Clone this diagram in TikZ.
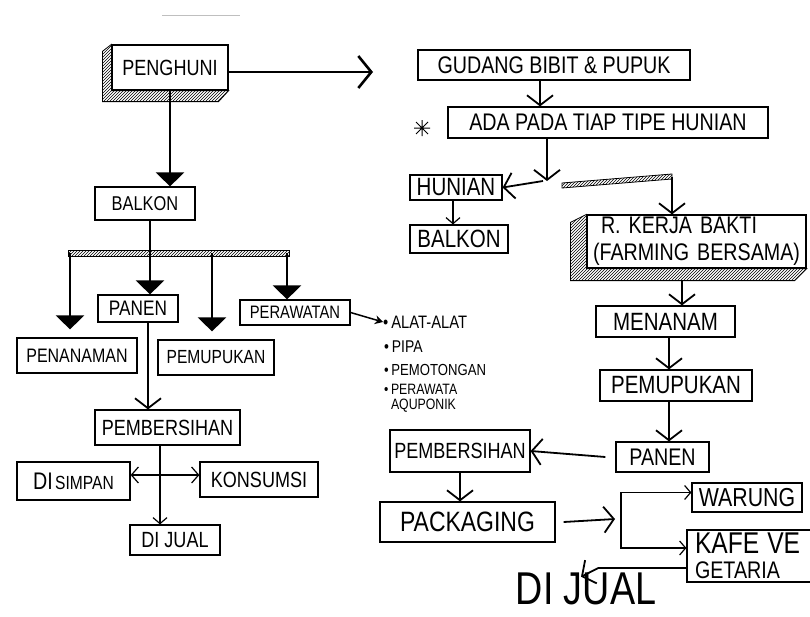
\documentclass[tikz,border=0pt]{standalone}
\usepackage{fontspec}
\setmainfont{Liberation Sans}[FakeStretch=0.82]
\usetikzlibrary{arrows.meta,patterns}

% font size shorthand
\newcommand\fs[1]{\fontsize{#1}{#1}\selectfont}

\tikzset{
  box/.style={draw,line width=1.2pt,inner sep=0pt,align=center},
  hatch/.style={draw,line width=0.8pt,pattern=north east lines},
  item/.style={anchor=west,inner sep=0pt,align=left},
  barb/.style={line width=1.8pt,-{Straight Barb[length=10pt,width=26pt]}},
  sbarb/.style={line width=1.2pt,-{Straight Barb[length=6pt,width=14pt]}},
  dbl/.style={line width=1.2pt,{Straight Barb[length=7pt,width=16pt]}-{Straight Barb[length=7pt,width=16pt]}},
  bigbarb/.style={line width=2.6pt,-{Straight Barb[length=13pt,width=32pt]}},
  tri/.style={line width=2.6pt,-{Triangle[length=14pt,width=28pt]}},
  pointer/.style={line width=1.5pt,-{Stealth[length=8pt,width=9pt]}},
}

\begin{document}
\begin{tikzpicture}[x=1pt,y=-1pt]
\useasboundingbox (0,0) rectangle (810,616);

% faint pencil stroke at the top
\draw[black!25,line width=1pt] (162,15) -- (240,15);

% ---------------- left column ----------------
\node[box,font=\fs{22},minimum width=116pt,minimum height=45pt] (penghuni) at (170,67.5) {PENGHUNI};
\draw[hatch] (penghuni.north west) -- ++(-9,7) -- ([xshift=-9pt,yshift=-11pt]penghuni.south west)
  -- ([xshift=-10pt,yshift=-11pt]penghuni.south east) -- (penghuni.south east) -- (penghuni.south west) -- cycle;

\node[box,font=\fs{20},minimum width=100pt,minimum height=33pt] (balkonL) at (145,203.5) {BALKON};
\node[box,font=\fs{21},minimum width=80pt,minimum height=27pt] (panenL) at (138,308.5) {PANEN};
\node[box,font=\fs{19.5},minimum width=120pt,minimum height=35pt] (penanaman) at (77,355.5) {PENANAMAN};
\node[box,font=\fs{19},minimum width=116pt,minimum height=35pt] (pemupukanL) at (216,357.5) {PEMUPUKAN};
\node[box,font=\fs{18},minimum width=110pt,minimum height=25pt] (perawatan) at (295,312.5) {PERAWATAN};
\node[box,font=\fs{22},minimum width=145pt,minimum height=35pt] (pembL) at (167.5,427.5) {PEMBERSIHAN};
\node[box,minimum width=113pt,minimum height=38pt] (disimpan) at (73.5,481) {{\fs{24}DI} {\fs{19}SIMPAN}};
\node[box,font=\fs{22},minimum width=118pt,minimum height=35pt] (konsumsi) at (259,479.5) {KONSUMSI};
\node[box,font=\fs{22},minimum width=90pt,minimum height=30pt] (dijualL) at (175,540) {DI JUAL};

% list of care tasks
\node[item,font=\fs{18}] (item1) at (383,322) {\textbullet\,ALAT-ALAT};
\node[item,font=\fs{17}] (item2) at (384,347) {\textbullet\,PIPA};
\node[item,font=\fs{16}] (item3) at (384,370) {\textbullet\,PEMOTONGAN};
\node[item,font=\fontsize{15}{15}\selectfont] (item4) at (384,398) {\textbullet\,PERAWATA\\\phantom{\textbullet\,}AQUPONIK};

% connectors, left column
\coordinate (toG) at (373,72);
\draw[bigbarb] (penghuni.east |- toG) -- (toG);
\draw[tri] (penghuni.south) -- (penghuni.south |- balkonL.north);

\coordinate (stem) at (150,253);
\coordinate (barL) at (70,253);
\coordinate (barM) at (212,253);
\coordinate (barR) at (287,253);
\draw[tri] (balkonL.south -| stem) -- (panenL.north -| stem);
\draw[tri] (barL) -- ([yshift=8pt]penanaman.north -| barL);
\draw[tri] (barM) -- ([yshift=8pt]pemupukanL.north -| barM);
\draw[tri] (barR) -- (perawatan.north -| barR);
\draw[hatch] ([xshift=-2pt,yshift=3pt]barL) rectangle ([xshift=2pt,yshift=-3pt]barR);

\coordinate (pcol) at (148,360);
\draw[barb] (panenL.south -| pcol) -- (pembL.north -| pcol);

\coordinate (dcol) at (160,500);
\coordinate (hrow) at (160,475);
\draw[sbarb] (pembL.south -| dcol) -- (dijualL.north -| dcol);
\draw[dbl] (disimpan.east |- hrow) -- (konsumsi.west |- hrow);

\draw[pointer] (perawatan.east) -- (item1.west);

% ---------------- right column ----------------
\node[box,font=\fs{24},minimum width=272pt,minimum height=30pt] (gudang) at (554,65) {GUDANG BIBIT \& PUPUK};
\node[box,font=\fs{24},minimum width=320pt,minimum height=31pt] (ada) at (608,122.5) {ADA PADA TIAP TIPE HUNIAN};
\coordinate (star) at (422,128);
\draw[line width=1pt] (star) ++(-8,0) -- ++(16,0) (star) ++(0,-8) -- ++(0,16)
  (star) ++(-6,-6) -- ++(12,12) (star) ++(-6,6) -- ++(12,-12);

\node[box,font=\fs{25},minimum width=92pt,minimum height=25pt] (hunian) at (456,187.5) {HUNIAN};
\node[box,font=\fs{25},minimum width=98pt,minimum height=28pt] (balkonR) at (459,239) {BALKON};

\node[box,font=\fontsize{24}{27}\selectfont,align=left,text width=207pt,inner xsep=6pt,minimum height=53pt] (kerja) at (696.5,241.5) {\hspace*{8pt}R. KERJA BAKTI\\(FARMING BERSAMA)};
\draw[hatch] (kerja.north west) -- ++(-16,8) -- ([xshift=-16pt,yshift=-12pt]kerja.south west)
  -- ([xshift=-12pt,yshift=-12pt]kerja.south east) -- (kerja.south east) -- (kerja.south west) -- cycle;

\node[box,font=\fs{25},minimum width=139pt,minimum height=31pt] (menanam) at (665.5,321.5) {MENANAM};
\node[box,font=\fs{25},minimum width=152pt,minimum height=31pt] (pemupukanR) at (676,385.5) {PEMUPUKAN};
\node[box,font=\fs{24},minimum width=93pt,minimum height=30pt] (panenR) at (662.5,457) {PANEN};
\node[box,font=\fs{22},minimum width=140pt,minimum height=42pt] (pembR) at (460,451) {PEMBERSIHAN};
\node[box,font=\fs{28},minimum width=175pt,minimum height=40pt] (packaging) at (467.5,522) {PACKAGING};
\node[box,font=\fs{26},minimum width=110pt,minimum height=29pt] (warung) at (747,497.5) {WARUNG};
\node[box,font=\fontsize{24}{25}\selectfont,align=left,text width=111pt,inner xsep=8pt,minimum height=52pt] (kafe) at (750.5,556)
  {{\fs{30}KAFE VE}\\GETARIA};
\node[inner sep=0pt,font=\fs{46}] (dijualR) at (586,589) {DI JUAL};

% connectors, right column
\coordinate (gcol) at (540,100);
\draw[barb] (gudang.south -| gcol) -- (ada.north -| gcol);
\coordinate (J) at (547,181);
\draw[barb] (ada.south -| J) -- (J);
\draw[barb] ([xshift=-4pt]J) -- (hunian.east);
\coordinate (K) at (672,177);
\draw[hatch] ([xshift=15pt,yshift=-2pt]J) -- ([yshift=3pt]K) -- ([yshift=-2pt]K) -- ([xshift=15pt,yshift=-7pt]J) -- cycle;
\draw[barb] (K) -- (kerja.north -| K);

\coordinate (hcol) at (453,210);
\draw[sbarb] (hunian.south -| hcol) -- (balkonR.north -| hcol);

\coordinate (kcol) at (682,290);
\coordinate (mcol) at (669,350);
\draw[barb] ([yshift=-12pt]kerja.south -| kcol) -- (menanam.north -| kcol);
\draw[barb] (menanam.south -| mcol) -- (pemupukanR.north -| mcol);
\draw[barb] (pemupukanR.south -| mcol) -- (panenR.north -| mcol);
\draw[barb] ([xshift=-10pt]panenR.west) -- (pembR.east);
\draw[barb] (pembR.south) -- (pembR.south |- packaging.north);

\coordinate (fork) at (621,519);
\draw[barb] ([xshift=8pt]packaging.east) -- ([xshift=-6pt]fork);
\draw[sbarb] (fork) |- ([yshift=5pt]warung.west);
\draw[sbarb] (fork) |- ([yshift=8pt]kafe.west);
\draw[barb] ([yshift=-12pt]kafe.west) -- ++(-88,0) -- ([xshift=-5pt,yshift=-4pt]dijualR.north);
\end{tikzpicture}
\end{document}
